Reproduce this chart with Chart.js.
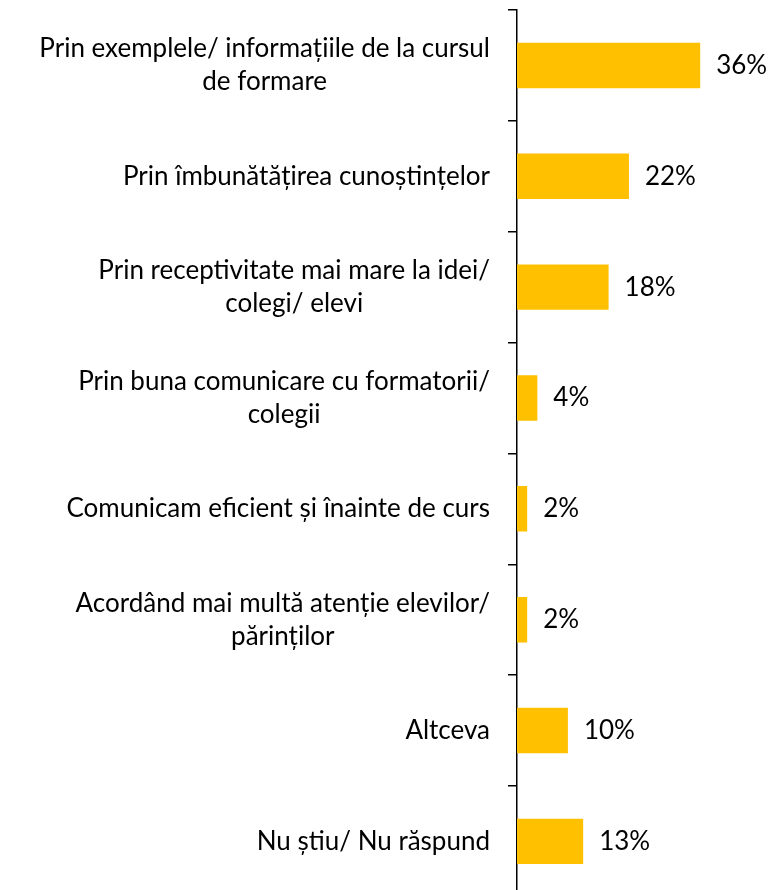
<!DOCTYPE html>
<html>
<head>
<meta charset="utf-8">
<script src="https://cdn.jsdelivr.net/npm/chart.js@4/dist/chart.umd.min.js"></script>
<style>
  html, body { margin: 0; padding: 0; background: #fff; overflow: hidden; }
  #wrap { width: 769px; height: 904px; position: relative; }
</style>
</head>
<body>
<div id="wrap"><canvas id="c"></canvas></div>
<script>
// Category labels (each entry is a list of lines)
const categories = [
  ["Prin exemplele/ informațiile de la cursul", "de formare"],
  ["Prin îmbunătățirea cunoștințelor"],
  ["Prin receptivitate mai mare la idei/", "colegi/ elevi"],
  ["Prin buna comunicare cu formatorii/", "colegii"],
  ["Comunicam eficient și înainte de curs"],
  ["Acordând mai multă atenție elevilor/", "părinților"],
  ["Altceva"],
  ["Nu știu/ Nu răspund"]
];
// Share of respondents, percent
const shares = [36, 22, 18, 4, 2, 2, 10, 13];

const FONT = '26px Lato';
const LINE_H = 33;
const LABEL_RIGHT = 490;

// Draws the category names right-aligned next to the axis, lines centred within each label
const categoryLabels = {
  id: 'categoryLabels',
  afterDraw(chart) {
    const ctx = chart.ctx;
    const y = chart.scales.y;
    ctx.save();
    ctx.font = FONT;
    ctx.fillStyle = '#000';
    ctx.textBaseline = 'middle';
    ctx.textAlign = 'center';
    chart.data.labels.forEach((lines, i) => {
      const cy = y.getPixelForTick(i);
      const w = Math.max(...lines.map(l => ctx.measureText(l).width));
      const cx = LABEL_RIGHT - w / 2;
      lines.forEach((l, j) => {
        ctx.fillText(l, cx, cy + (j - (lines.length - 1) / 2) * LINE_H);
      });
    });
    ctx.restore();
  }
};

// Percentage labels at the end of each bar
const valueLabels = {
  id: 'valueLabels',
  afterDatasetsDraw(chart) {
    const ctx = chart.ctx;
    const meta = chart.getDatasetMeta(0);
    ctx.save();
    ctx.font = FONT;
    ctx.fillStyle = '#000';
    ctx.textBaseline = 'middle';
    ctx.textAlign = 'left';
    meta.data.forEach((bar, i) => {
      ctx.fillText(chart.data.datasets[0].data[i] + '%', bar.x + 16, bar.y);
    });
    ctx.restore();
  }
};

new Chart(document.getElementById('c'), {
  type: 'bar',
  data: {
    labels: categories,
    datasets: [{
      data: shares,
      backgroundColor: '#FFC000',
      borderWidth: 0,
      categoryPercentage: 1,
      barPercentage: 0.41
    }]
  },
  options: {
    indexAxis: 'y',
    responsive: true,
    maintainAspectRatio: false,
    animation: false,
    layout: { padding: { top: 10, right: 23, bottom: 0, left: 0 } },
    plugins: { legend: { display: false }, tooltip: { enabled: false } },
    scales: {
      x: { display: false, min: 0, max: 45 },
      y: {
        offset: true,
        border: { display: true, color: '#000', width: 1.5 },
        grid: { display: true, drawOnChartArea: false, drawTicks: true, tickLength: 9, color: '#000', lineWidth: 1.5, offset: true },
        ticks: { callback: () => '', padding: 0 },
        afterFit(scale) { scale.width = 517; }
      }
    }
  },
  plugins: [categoryLabels, valueLabels]
});
</script>
</body>
</html>
